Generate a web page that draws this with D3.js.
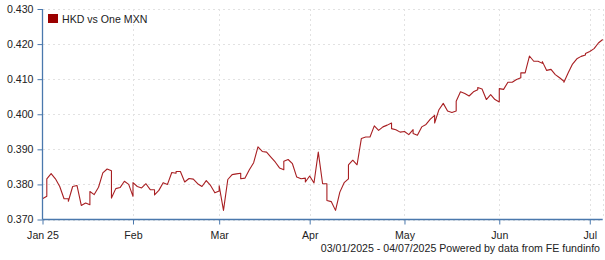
<!DOCTYPE html>
<html>
<head>
<meta charset="utf-8">
<script src="https://cdn.jsdelivr.net/npm/d3@7"></script>
<style>
  body { margin: 0; background: #fff; }
  svg text { font-family: "Liberation Sans", Arial, sans-serif; font-size: 10.6px; fill: #222; }
</style>
</head>
<body>
<svg id="chart" width="605" height="260"></svg>
<script>
// series: HKD vs One MXN, every weekday plus the saturday fixing (sundays are skipped)
const seriesName = "HKD vs One MXN";
const startDate = new Date(2025, 0, 3);
const endDate = new Date(2025, 6, 4);
const rates = [
  0.3759, 0.3766,
  0.3816, 0.3831, 0.3816, 0.3794, 0.3759, 0.3759,
  0.3752, 0.3794, 0.3797, 0.3740, 0.3747, 0.3742,
  0.3780, 0.3771, 0.3792, 0.3833, 0.3844, 0.3839,
  0.3761, 0.3788, 0.3791, 0.3809, 0.3800, 0.3766,
  0.3805, 0.3794, 0.3790, 0.3802, 0.3785, 0.3785,
  0.3770, 0.3783, 0.3805, 0.3800, 0.3834, 0.3832,
  0.3837, 0.3837, 0.3807, 0.3817, 0.3815, 0.3802,
  0.3802, 0.3794, 0.3811, 0.3797, 0.3776, 0.3781,
  0.3796, 0.3726, 0.3814, 0.3828, 0.3830, 0.3832,
  0.3816, 0.3818, 0.3842, 0.3862, 0.3907, 0.3894,
  0.3894, 0.3892, 0.3878, 0.3864, 0.3847, 0.3842,
  0.3866, 0.3871, 0.3859, 0.3821, 0.3816, 0.3818,
  0.3807, 0.3824, 0.3804, 0.3892, 0.3802, 0.3802,
  0.3754, 0.3751, 0.3726, 0.3778, 0.3805, 0.3816,
  0.3856, 0.3869, 0.3856, 0.3931, 0.3935, 0.3935,
  0.3935, 0.3967, 0.3954, 0.3964, 0.3969, 0.3975,
  0.3959, 0.3956, 0.3949, 0.3951, 0.3942, 0.3956,
  0.3945, 0.3940, 0.3964, 0.3971, 0.3986, 0.3997,
  0.3975, 0.4013, 0.4031, 0.4009, 0.4005, 0.4009,
  0.4037, 0.4064, 0.4059, 0.4052, 0.4064, 0.4070,
  0.4076, 0.4072, 0.4042, 0.4056, 0.4042, 0.4035,
  0.4073, 0.4071, 0.4091, 0.4091, 0.4099, 0.4104,
  0.4118, 0.4118, 0.4166, 0.4151, 0.4151, 0.4145,
  0.4150, 0.4125, 0.4128, 0.4113, 0.4104, 0.4094,
  0.4091, 0.4118, 0.4143, 0.4158, 0.4165, 0.4169,
  0.4173, 0.4179, 0.4187, 0.4203, 0.4213
];
const monthLabels = ["Jan 25", "Feb", "Mar", "Apr", "May", "Jun", "Jul"];
const yTicks = [0.370, 0.380, 0.390, 0.400, 0.410, 0.420, 0.430];
const footerText = "03/01/2025 - 04/07/2025 Powered by data from FE fundinfo";

const svg = d3.select("#chart");
const W = 605, H = 260;
const margin = { top: 9, right: 2.3, bottom: 41, left: 42.5 };
const fontSize = 10.6;

const isWeekday = d => d.getDay() !== 0 && d.getDay() !== 6;
const allDays = d3.timeDay.range(startDate, d3.timeDay.offset(endDate, 1));
const dates = allDays.filter(d => d.getDay() !== 0);
// weekends are squeezed out of the axis, saturday lands on the next monday
const bizIndex = d => allDays.filter(a => a < d && isWeekday(a)).length;

const data = dates.map((d, i) => ({ date: d, b: bizIndex(d), v: rates[i] }));
const lastB = bizIndex(endDate);

const x = d3.scaleLinear().domain([0, lastB]).range([margin.left, W - margin.right]);
const y = d3.scaleLinear().domain([0.370, 0.430]).range([H - margin.bottom + 0.5, margin.top]);

// first trading day of each month
const monthStarts = [];
allDays.filter(isWeekday).forEach(d => {
    const key = d.getFullYear() * 12 + d.getMonth();
    if (!monthStarts.length || monthStarts[monthStarts.length - 1].key !== key) monthStarts.push({ key, date: d });
});
const xTicks = monthStarts.map((m, i) => ({ b: bizIndex(m.date), label: monthLabels[i] }));

// grid
const grid = svg.append("g").attr("stroke", "#e2e2e2").attr("stroke-dasharray", "2,3").attr("shape-rendering", "crispEdges");
grid.selectAll("line.h").data(yTicks).enter().append("line")
    .attr("x1", margin.left).attr("x2", W - margin.right)
    .attr("y1", d => Math.round(y(d)) + 0.5).attr("y2", d => Math.round(y(d)) + 0.5);
grid.selectAll("line.v").data(xTicks.map(t => t.b).concat([lastB]).slice(1)).enter().append("line")
    .attr("x1", d => Math.round(x(d)) + 0.5).attr("x2", d => Math.round(x(d)) + 0.5)
    .attr("y1", margin.top).attr("y2", H - margin.bottom);

// line
const line = d3.line().x(d => x(d.b)).y(d => y(d.v));
svg.append("path").datum(data)
    .attr("fill", "none")
    .attr("stroke", "#a81f22")
    .attr("stroke-width", 1.1)
    .attr("stroke-linejoin", "round")
    .attr("d", line);

// axes
const axisColor = "#4a78ad";
const yAxis = svg.append("g").attr("transform", `translate(${margin.left},0)`)
    .call(d3.axisLeft(y).tickValues(yTicks).tickFormat(d3.format(".3f")).tickSize(5).tickPadding(4));
const xAxis = svg.append("g").attr("transform", `translate(0,${H - margin.bottom + 0.5})`)
    .call(d3.axisBottom(x).tickValues(xTicks.map(t => t.b)).tickFormat((d, i) => xTicks[i].label).tickSize(5).tickPadding(7));
[yAxis, xAxis].forEach(g => {
    g.select(".domain").attr("stroke", axisColor).attr("stroke-width", 1.3);
    g.selectAll(".tick line").attr("stroke", axisColor);
    g.selectAll("text").attr("font-size", fontSize).attr("font-family", "Liberation Sans, Arial, sans-serif").attr("fill", "#222");
});
xAxis.select(".domain").attr("d", `M${margin.left},0H${W - margin.right}`);
yAxis.select(".domain").attr("d", `M0,${y(0.430)}V${y(0.370)}`);

// legend
const legend = svg.append("g").attr("transform", "translate(48,14)");
legend.append("rect").attr("width", 10).attr("height", 9).attr("fill", "#9b0000");
legend.append("text").attr("x", 14).attr("y", 8.5).text(seriesName);

// footer
svg.append("text").attr("x", 600).attr("y", 252).attr("text-anchor", "end").text(footerText);
</script>
</body>
</html>
